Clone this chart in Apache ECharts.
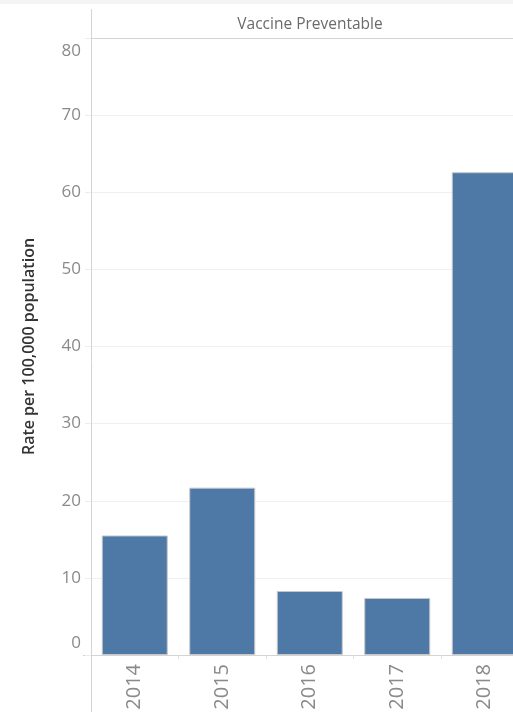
<!DOCTYPE html>
<html><head><meta charset="utf-8">
<script src="https://cdn.jsdelivr.net/npm/echarts@6/dist/echarts.min.js"></script>
<style>html,body{margin:0;padding:0;background:#fff;overflow:hidden}#c{width:513px;height:712px}</style>
</head><body><div id="c"></div>
<script>
const categories = ['2014','2015','2016','2017','2018'];
const values = [15.5, 21.7, 8.3, 7.4, 62.6];
const yTicks = [0,10,20,30,40,50,60,70,80];
const panelTitle = 'Vaccine Preventable';
const yTitle = 'Rate per 100,000 population';

const chart = echarts.init(document.getElementById('c'));
const FONT = '"Open Sans", Lato, sans-serif';
const LBL = '#8a8a8a';
chart.setOption({
  animation: false,
  textStyle: {fontFamily: FONT},
  graphic: [
    {type:'rect', shape:{x:0,y:0,width:513,height:4}, style:{fill:'#f4f4f4'}, silent:true},
    {type:'line', shape:{x1:91.5,y1:9,x2:91.5,y2:712}, style:{stroke:'#d4d4d4',lineWidth:1}, silent:true, z:10},
    {type:'line', shape:{x1:92,y1:38.5,x2:513,y2:38.5}, style:{stroke:'#d4d4d4',lineWidth:1}, silent:true, z:10},
    {type:'line', shape:{x1:83,y1:655.5,x2:92,y2:655.5}, style:{stroke:'#d4d4d4',lineWidth:1}, silent:true},
    {type:'text', x:310, y:25, style:{text:panelTitle, fill:'#6a6a6a', font:'15.5px '+FONT, textAlign:'center', textVerticalAlign:'middle'}, silent:true}
  ],
  grid: {left:91, top:38, width:437.5, bottom:57, containLabel:false, outerBoundsMode:'none'},
  xAxis: {
    type:'category', data:categories,
    axisLine:{show:true, lineStyle:{color:'#d4d4d4'}},
    axisTick:{show:true, length:4, alignWithLabel:false, lineStyle:{color:'#e0e0e0'}},
    axisLabel:{rotate:90, color:LBL, fontSize:20, margin:9, fontFamily:FONT},
    splitLine:{show:false}
  },
  yAxis: {
    type:'value', min:0, max:80, interval:10,
    name: yTitle, nameLocation:'middle', nameGap:54, nameRotate:90,
    nameTextStyle:{color:'#333', fontSize:16, fontWeight:600, fontFamily:FONT},
    axisLine:{show:false},
    axisTick:{show:true, length:6, lineStyle:{color:'#ececec'}},
    axisLabel:{
      color:LBL, fontSize:17, margin:10, fontFamily:FONT,
      formatter: v => v===0 ? '{b|0}' : (v===80 ? '{t|80}' : '{n|'+v+'}'),
      rich:{
        n:{color:LBL, fontSize:17, fontFamily:FONT},
        b:{color:LBL, fontSize:17, fontFamily:FONT, padding:[0,0,24,0]},
        t:{color:LBL, fontSize:17, fontFamily:FONT, padding:[26,0,0,0]}
      }
    },
    splitLine:{show:true, lineStyle:{color:'#f0f0f0'}}
  },
  series: [{
    type:'bar', data:values, barWidth:66,
    itemStyle:{color:'#4e79a7', borderColor:'#c8c8c8', borderWidth:1}
  }]
});
</script></body></html>
